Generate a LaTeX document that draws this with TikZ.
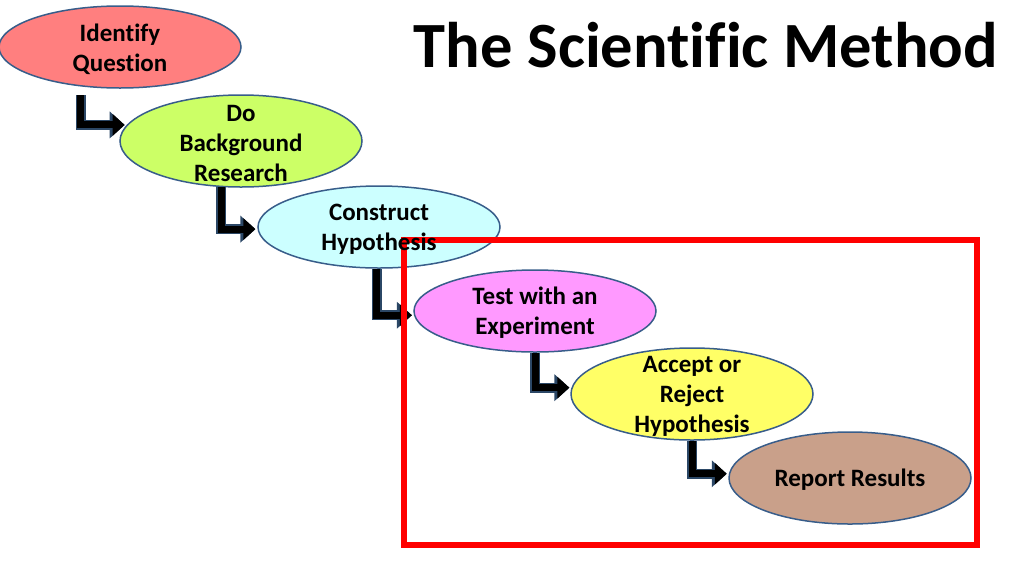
\documentclass[tikz,border=0pt]{standalone}
\usepackage{fontspec}
\setmainfont[Ligatures=NoCommon]{Carlito}
\usetikzlibrary{shapes,arrows.meta}
\usepackage{xcolor}
\definecolor{edgeblue}{HTML}{385D8A}
\definecolor{arrowedge}{HTML}{2B4766}
\definecolor{questfill}{HTML}{FF7F7F}
\definecolor{researchfill}{HTML}{CCFF66}
\definecolor{hypfill}{HTML}{CCFFFF}
\definecolor{testfill}{HTML}{FF99FF}
\definecolor{acceptfill}{HTML}{FFFF66}
\definecolor{reportfill}{HTML}{C9A08A}

\begin{document}
\begin{tikzpicture}[x=1pt,y=-1pt]
\tikzstyle{stage}=[draw=edgeblue, line width=1.5pt, ellipse, inner sep=0pt, minimum width=242pt, minimum height=82pt];
\tikzstyle{lbl}=[font=\bfseries\fontsize{25}{30}\selectfont, align=center, yshift=-2pt];
\tikzstyle{bent}=[draw=black, line width=7pt, shorten >=2pt, -{Triangle[length=12pt,width=21pt]},
  preaction={draw=arrowedge, line width=10pt, -{Triangle[length=15pt,width=26pt]}}];
\useasboundingbox (0,0) rectangle (1024,576);
\begin{scope}
  \node (question) at (120,47) [stage, fill=questfill]{};
  \node (research) at (241,141) [stage, minimum height=92pt, fill=researchfill]{};
  \node (hypothesis) at (379,227) [stage, fill=hypfill]{};
  \node (test) at (535,311) [stage, fill=testfill]{};
  \node (accept) at (692,394) [stage, minimum height=92pt, fill=acceptfill]{};
  \node (report) at (850,478) [stage, minimum height=92pt, fill=reportfill]{};

  \draw[bent, shorten <=9pt] (question.225) |- (research.172);
  \draw[bent] (research.247) |- (hypothesis.181);
  \draw[bent] (hypothesis.267) |- (test.182);
  \draw[bent] (test.south) |- (accept.177);
  \draw[bent] (accept.south) |- (report.178);

  \node (frame) [draw=red, line width=6pt, minimum width=573pt, minimum height=305pt, inner sep=0pt] at (690.5,392.5) {};

  \node (questiontext) at (question) [lbl]{Identify\\Question};
  \node (researchtext) at (research) [lbl]{Do\\Background\\Research};
  \node (hypothesistext) at (hypothesis) [lbl]{Construct\\Hypothesis};
  \node (testtext) at (test) [lbl]{Test with an\\Experiment};
  \node (accepttext) at (accept) [lbl]{Accept or\\Reject\\Hypothesis};
  \node (reporttext) at (report) [lbl]{Report Results};

  \node (title) at (706,45) [font=\bfseries\fontsize{64.5}{70}\selectfont]{The Scientific Method};
\end{scope}
\end{tikzpicture}
\end{document}
